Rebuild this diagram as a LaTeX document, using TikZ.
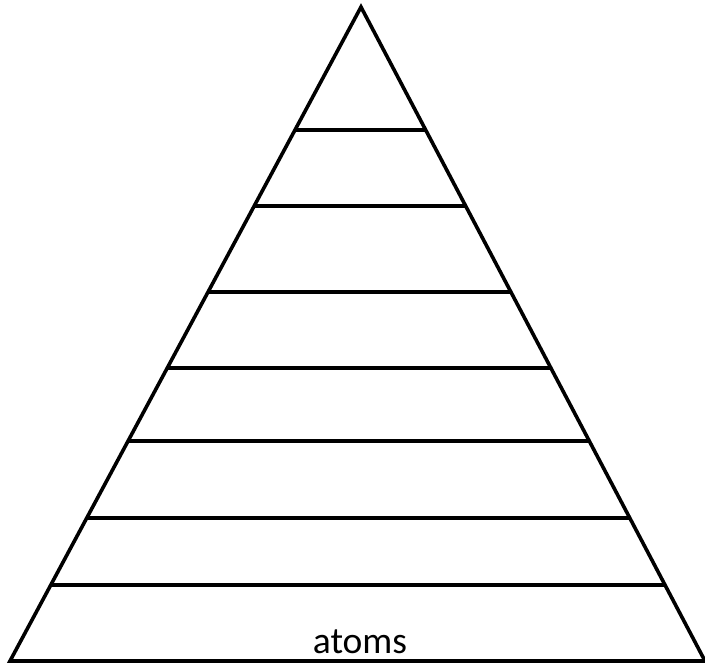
\documentclass[tikz,border=0pt]{standalone}
\usepackage{fontspec}
\setmainfont{Carlito}
\usetikzlibrary{calc}
\begin{document}
\begin{tikzpicture}[x=1pt,y=-1pt,
  edge/.style={line width=3.6pt,line join=miter},
  tier/.style={line width=3.6pt}]
\useasboundingbox (0,0) rectangle (705,666);
\coordinate (A) at (361,7);
\coordinate (L) at (10,661);
\coordinate (R) at (705,661);
\draw[edge] (L) -- (A) -- (R) -- cycle;
\foreach \y [count=\i] in {130,206,292,368,441,518,585}{
  \pgfmathsetmacro{\t}{(\y-7)/654}
  \coordinate (l\i) at ($(A)!\t!(L)$);
  \coordinate (r\i) at ($(A)!\t!(R)$);
  \draw[tier] (l\i) -- (r\i);
}
\node[anchor=base,font=\fontsize{37.5}{42}\selectfont,inner sep=0pt] (atoms) at (360,653) {atoms};
\end{tikzpicture}
\end{document}
